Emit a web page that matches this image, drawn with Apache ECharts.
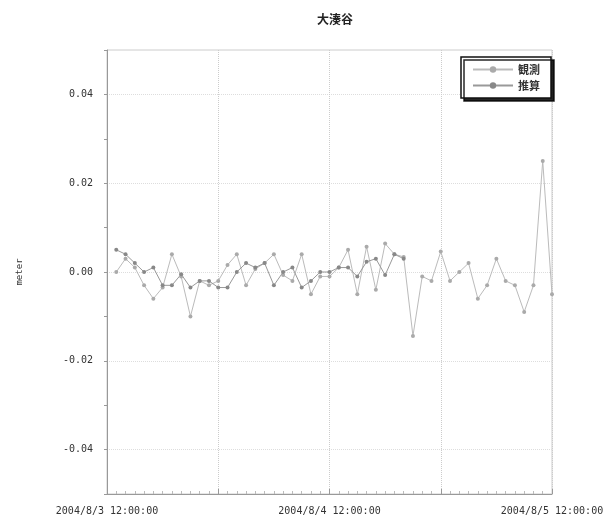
<!DOCTYPE html>
<html><head><meta charset="utf-8">
<script src="https://cdn.jsdelivr.net/npm/echarts@6/dist/echarts.min.js"></script>
<style>html,body{margin:0;padding:0;background:#fff}#c{width:613px;height:521px}</style>
</head><body><div id="c"></div>
<script>
const titleText = '大湊谷';
const yAxisName = 'meter';
const seriesNames = ['観測', '推算'];
// hours after 2004/8/3 12:00:00
const xTickLabels = {0: '2004/8/3 12:00:00', 24: '2004/8/4 12:00:00', 48: '2004/8/5 12:00:00'};
const hoursB = [1,2,3,4,5,6,7,8,9,10,11,12,13,14,15,16,17,18,19,20,21,22,23,24,25,26,27,28,29,30,31,32,33,34,35,36,37,38,39,40,41,42,43,44,45,46,47,48];
const valuesB = [0.000,0.003,0.001,-0.003,-0.006,-0.0035,0.004,-0.001,-0.010,-0.002,-0.003,-0.002,0.0016,0.004,-0.003,0.0007,0.002,0.004,-0.0007,-0.002,0.004,-0.005,-0.001,-0.001,0.001,0.005,-0.005,0.0057,-0.004,0.0064,0.004,0.0034,-0.0144,-0.001,-0.002,0.0046,-0.002,0.000,0.002,-0.006,-0.003,0.003,-0.002,-0.003,-0.009,-0.003,0.025,-0.005];
const hoursA = [1,2,3,4,5,6,7,8,9,10,11,12,13,14,15,16,17,18,19,20,21,22,23,24,25,26,27,28,29,30,31,32];
const valuesA = [0.005,0.004,0.002,0.000,0.001,-0.003,-0.003,-0.0005,-0.0035,-0.002,-0.002,-0.0035,-0.0035,0.000,0.002,0.001,0.002,-0.003,0.000,0.001,-0.0035,-0.002,0.000,0.000,0.001,0.001,-0.001,0.0023,0.003,-0.0007,0.004,0.003];

const ff = '"Noto Sans CJK JP", sans-serif';
const fm = '"DejaVu Sans Mono", monospace';
const chart = echarts.init(document.getElementById('c'), null, {renderer: 'canvas'});
chart.setOption({
  animation: false,
  backgroundColor: '#fff',
  title: {text: titleText, left: 330, top: 8, textAlign: 'center',
    textStyle: {fontFamily: ff, fontSize: 12, fontWeight: 'bold', color: '#222'}},
  legend: {
    data: seriesNames, orient: 'vertical', right: 62, top: 57,
    backgroundColor: '#fff', borderColor: '#111', borderWidth: 1.5,
    shadowColor: 'rgba(0,0,0,0.85)', shadowOffsetX: 3, shadowOffsetY: 3, shadowBlur: 0,
    padding: [7, 11, 7, 11], itemGap: 5, itemWidth: 40, itemHeight: 8,
    textStyle: {fontFamily: ff, fontSize: 11, fontWeight: 'bold', color: '#333'}
  },
  grid: {left: 107, right: 61, top: 50, bottom: 27, show: true, borderColor: '#ccc', borderWidth: 1},
  xAxis: {
    type: 'value', min: 0, max: 48, interval: 12,
    axisLine: {onZero: false, lineStyle: {color: '#999'}},
    axisTick: {inside: true, length: 5, lineStyle: {color: '#999'}},
    minorTick: {show: true, splitNumber: 12, length: 3, lineStyle: {color: '#bbb'}},
    splitLine: {show: true, lineStyle: {color: '#ccc', type: 'dotted'}},
    axisLabel: {margin: 12, fontFamily: fm, fontSize: 10, color: '#333',
      formatter: v => xTickLabels[Math.round(v)] || ''}
  },
  yAxis: {
    type: 'value', min: -0.05, max: 0.05, interval: 0.01,
    name: yAxisName, nameLocation: 'middle', nameGap: 83,
    nameTextStyle: {fontFamily: fm, fontSize: 9, color: '#333'},
    axisLine: {show: true, onZero: false, lineStyle: {color: '#999'}},
    axisTick: {show: true, length: 3, lineStyle: {color: '#999'}},
    splitLine: {show: true, lineStyle: {color: ['transparent', '#ddd'], type: 'dotted'}},
    axisLabel: {margin: 14, fontFamily: fm, fontSize: 10, color: '#333',
      formatter: v => { const k = Math.round(v * 100); return (k % 2 === 0) ? (k / 100).toFixed(2) : ''; }}
  },
  series: [
    {name: seriesNames[0], type: 'line', data: hoursB.map((h, i) => [h, valuesB[i]]),
      symbol: 'circle', symbolSize: 4, itemStyle: {color: '#aaa'}, lineStyle: {color: '#bbb', width: 1}},
    {name: seriesNames[1], type: 'line', data: hoursA.map((h, i) => [h, valuesA[i]]),
      symbol: 'circle', symbolSize: 4, itemStyle: {color: '#888'}, lineStyle: {color: '#999', width: 1}}
  ]
});
</script></body></html>
